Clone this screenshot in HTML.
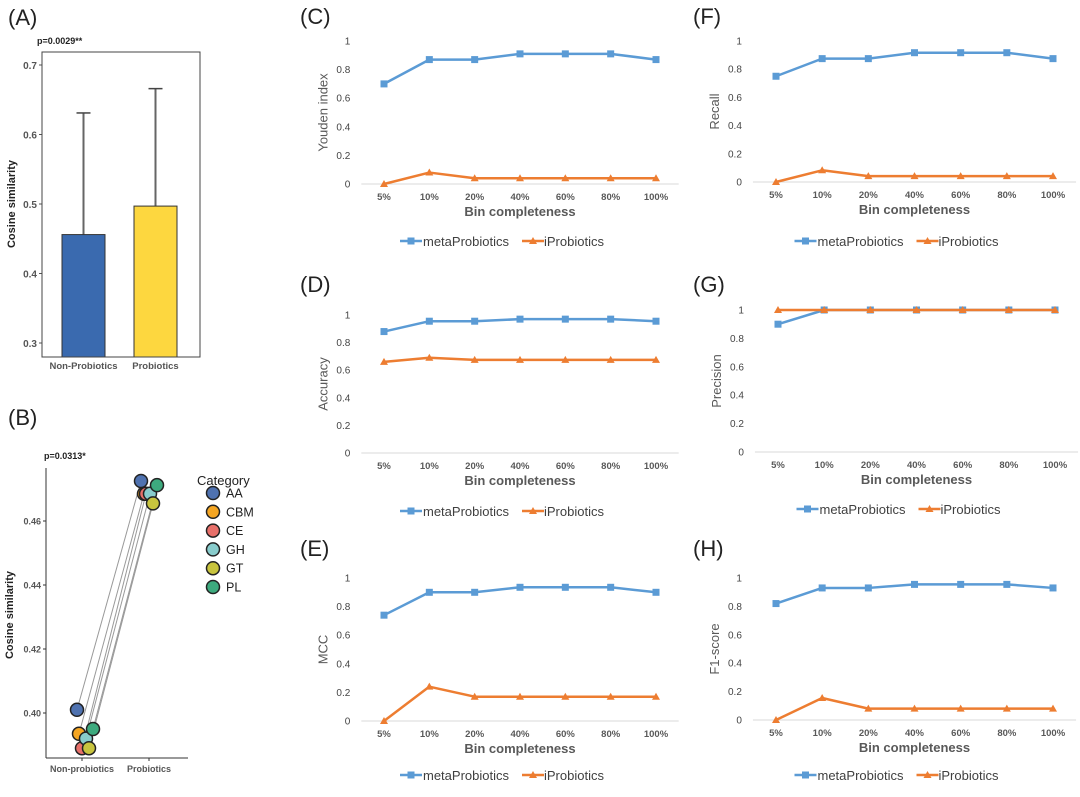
<!DOCTYPE html>
<html><head><meta charset="utf-8"><style>
body{margin:0;background:#fff;}
svg{display:block;font-family:"Liberation Sans",Arial,sans-serif;}
</style></head><body>
<svg id="fig" width="1080" height="797" viewBox="0 0 1080 797">
<g id="pA"></g>
<g id="pB"></g>
<g id="lines"></g>
</svg>
<script>
const NS="http://www.w3.org/2000/svg";
function el(p,t,a,txt){const e=document.createElementNS(NS,t);for(const k in a)e.setAttribute(k,a[k]);if(txt!==undefined)e.textContent=txt;p.appendChild(e);return e;}

// Panel A data
const aCats=["Non-Probiotics","Probiotics"];
const aMeans=[0.456,0.497];
const aErrTop=[0.631,0.666];
const aColors=["#3a6aaf","#fdd73f"];
const aTicks=[0.3,0.4,0.5,0.6,0.7];

// Panel B data
const bCats=["AA","CBM","CE","GH","GT","PL"];
const bNon=[0.401,0.3935,0.389,0.392,0.389,0.395];
const bPro=[0.4725,0.4685,0.4685,0.4685,0.4655,0.4712];
const bColors=["#4f72b0","#f5a623","#e8706a","#88cccc","#c8c43e","#3daa7e"];
const bTicks=[0.40,0.42,0.44,0.46];

// Line panels data
const binCats=["5%","10%","20%","40%","60%","80%","100%"];
const lineTicks=[0,0.2,0.4,0.6,0.8,1];
const youdenMeta=[0.70,0.87,0.87,0.91,0.91,0.91,0.87];
const youdenI=[0,0.08,0.04,0.04,0.04,0.04,0.04];
const recallMeta=[0.75,0.875,0.875,0.917,0.917,0.917,0.875];
const recallI=[0,0.083,0.042,0.042,0.042,0.042,0.042];
const accMeta=[0.88,0.955,0.955,0.97,0.97,0.97,0.955];
const accI=[0.66,0.69,0.675,0.675,0.675,0.675,0.675];
const precMeta=[0.9,1,1,1,1,1,1];
const precI=[1,1,1,1,1,1,1];
const mccMeta=[0.74,0.90,0.90,0.935,0.935,0.935,0.90];
const mccI=[0,0.24,0.17,0.17,0.17,0.17,0.17];
const f1Meta=[0.82,0.93,0.93,0.955,0.955,0.955,0.93];
const f1I=[0,0.155,0.08,0.08,0.08,0.08,0.08];

// ---- Panel A
(function(){
const g=document.getElementById('pA');
el(g,'text',{x:8,y:25,'font-size':22,fill:'#222',},'(A)');
el(g,'text',{x:37,y:44,'font-size':9,'font-weight':'bold',fill:'#222',},'p=0.0029**');
const y=v=>343-(v-0.3)*695;
const bx=[83.5,155.5];
aTicks.forEach(t=>{
 el(g,'line',{x1:39,x2:42,y1:y(t),y2:y(t),stroke:'#555'});
 el(g,'text',{x:37,y:y(t)+4,'font-size':10,'font-weight':'bold',fill:'#555','text-anchor':'end',},t.toFixed(1));
});
aMeans.forEach((m,i)=>{
 el(g,'line',{x1:bx[i],x2:bx[i],y1:y(aErrTop[i]),y2:y(m),stroke:'#666','stroke-width':2,});
 el(g,'line',{x1:bx[i]-7,x2:bx[i]+7,y1:y(aErrTop[i]),y2:y(aErrTop[i]),stroke:'#444','stroke-width':1.5});
 el(g,'rect',{x:bx[i]-21.5,y:y(m),width:43,height:357-y(m),fill:aColors[i],stroke:'#333','stroke-width':1,});
 el(g,'text',{x:bx[i],y:369,'font-size':9.5,'font-weight':'bold',fill:'#555','text-anchor':'middle',},aCats[i]);
});
el(g,'rect',{x:42,y:52,width:158,height:305,fill:'none',stroke:'#444','stroke-width':1,});
el(g,'text',{x:0,y:0,'font-size':11,'font-weight':'bold',fill:'#222','text-anchor':'middle',transform:'translate(15,204) rotate(-90)',},'Cosine similarity');
})();

// ---- Panel B
(function(){
const g=document.getElementById('pB');
el(g,'text',{x:8,y:425,'font-size':22,fill:'#222',},'(B)');
el(g,'text',{x:44,y:459,'font-size':9,'font-weight':'bold',fill:'#222',},'p=0.0313*');
const y=v=>713-(v-0.40)*3200;
const xn=[77,79,82,86,89,93], xp=[141,144,146,150,153,157];
el(g,'line',{x1:46,x2:46,y1:468,y2:758,stroke:'#333','stroke-width':1,});
el(g,'line',{x1:46,x2:188,y1:758,y2:758,stroke:'#333','stroke-width':1,});
bTicks.forEach(t=>{
 el(g,'line',{x1:43,x2:46,y1:y(t),y2:y(t),stroke:'#333'});
 el(g,'text',{x:41,y:y(t)+3.5,'font-size':9,'font-weight':'bold',fill:'#555','text-anchor':'end',},t.toFixed(2));
});
[[82,'Non-probiotics'],[149,'Probiotics']].forEach(([x,t])=>{
 el(g,'line',{x1:x,x2:x,y1:758,y2:761,stroke:'#333'});
 el(g,'text',{x:x,y:772,'font-size':9,'font-weight':'bold',fill:'#555','text-anchor':'middle',},t);
});
bCats.forEach((c,i)=>{
 const l=el(g,'line',{x1:xn[i],y1:y(bNon[i]),x2:xp[i],y2:y(bPro[i]),stroke:'#999','stroke-width':1});
 
 
});
bCats.forEach((c,i)=>{
 el(g,'circle',{cx:xn[i],cy:y(bNon[i]),r:6.5,fill:bColors[i],stroke:'#222','stroke-width':1.5,});
});
bCats.forEach((c,i)=>{
 el(g,'circle',{cx:xp[i],cy:y(bPro[i]),r:6.5,fill:bColors[i],stroke:'#222','stroke-width':1.5,});
});
el(g,'text',{x:197,y:485,'font-size':13,fill:'#222',},'Category');
bCats.forEach((c,i)=>{
 const yy=493+i*18.8;
 el(g,'circle',{cx:213,cy:yy,r:6.5,fill:bColors[i],stroke:'#222','stroke-width':1.5,});
 el(g,'text',{x:226,y:yy+4.5,'font-size':12.5,fill:'#222',},c);
});
el(g,'text',{x:0,y:0,'font-size':11,'font-weight':'bold',fill:'#222','text-anchor':'middle',transform:'translate(13,615) rotate(-90)',},'Cosine similarity');
})();

// ---- Line panels
const panels=[
 {L:'(C)',lx:300,ly:24,x0:384,x1:656,yt:41,yb:184,title:'Youden index',meta:youdenMeta,ip:youdenI,leg:241},
 {L:'(F)',lx:693,ly:24,x0:776,x1:1053,yt:41,yb:182,title:'Recall',meta:recallMeta,ip:recallI,leg:241},
 {L:'(D)',lx:300,ly:292,x0:384,x1:656,yt:315,yb:453,title:'Accuracy',meta:accMeta,ip:accI,leg:511},
 {L:'(G)',lx:693,ly:292,x0:778,x1:1055,yt:310,yb:452,title:'Precision',meta:precMeta,ip:precI,leg:509},
 {L:'(E)',lx:300,ly:556,x0:384,x1:656,yt:578,yb:721,title:'MCC',meta:mccMeta,ip:mccI,leg:775},
 {L:'(H)',lx:693,ly:556,x0:776,x1:1053,yt:578,yb:720,title:'F1-score',meta:f1Meta,ip:f1I,leg:775}
];
const root=document.getElementById('lines');
panels.forEach(p=>{
 const g=el(root,'g',{});
 el(g,'text',{x:p.lx,y:p.ly,'font-size':22,fill:'#222',},p.L);
 const n=binCats.length;
 const X=i=>p.x0+(p.x1-p.x0)*i/(n-1);
 const Y=v=>p.yb-(p.yb-p.yt)*v;
 const step=(p.x1-p.x0)/(n-1);
 el(g,'line',{x1:p.x0-step/2,x2:p.x1+step/2,y1:p.yb,y2:p.yb,stroke:'#d9d9d9','stroke-width':1,});
 lineTicks.forEach(t=>{
  el(g,'text',{x:p.x0-step/2-11,y:Y(t)+3.5,'font-size':10,fill:'#444','text-anchor':'end',},String(t));
 });
 binCats.forEach((c,i)=>{
  el(g,'text',{x:X(i),y:p.yb+16,'font-size':9.5,'font-weight':'bold',fill:'#595959','text-anchor':'middle',},c);
 });
 el(g,'text',{x:(p.x0+p.x1)/2,y:p.yb+32,'font-size':13,'font-weight':'bold',fill:'#595959','text-anchor':'middle',},'Bin completeness');
 el(g,'text',{x:0,y:0,'font-size':13,fill:'#595959','text-anchor':'middle',transform:`translate(${p.x0-step/2-34},${(p.yt+p.yb)/2}) rotate(-90)`,},p.title);
 const series=[[p.meta,'#5b9bd5','sq','metaProbiotics'],[p.ip,'#ed7d31','tri','iProbiotics']];
 series.forEach(([vals,col,mk,nm])=>{
  el(g,'polyline',{points:vals.map((v,i)=>X(i)+','+Y(v)).join(' '),fill:'none',stroke:col,'stroke-width':2.5,'stroke-linejoin':'round',});
  vals.forEach((v,i)=>{
   if(mk==='sq') el(g,'rect',{x:X(i)-3.5,y:Y(v)-3.5,width:7,height:7,fill:col,});
   else el(g,'polygon',{points:`${X(i)},${Y(v)-4} ${X(i)-4},${Y(v)+3} ${X(i)+4},${Y(v)+3}`,fill:col,});
  });
 });
 const cx=(p.x0+p.x1)/2-20;
 const lg=el(g,'g',{});
 el(lg,'line',{x1:cx-100,x2:cx-78,y1:p.leg,y2:p.leg,stroke:'#5b9bd5','stroke-width':2.5});
 el(lg,'rect',{x:cx-92.5,y:p.leg-3.5,width:7,height:7,fill:'#5b9bd5'});
 el(lg,'text',{x:cx-77,y:p.leg+5,'font-size':13,fill:'#404040',},'metaProbiotics');
 el(lg,'line',{x1:cx+22,x2:cx+44,y1:p.leg,y2:p.leg,stroke:'#ed7d31','stroke-width':2.5});
 el(lg,'polygon',{points:`${cx+33},${p.leg-4} ${cx+29},${p.leg+3} ${cx+37},${p.leg+3}`,fill:'#ed7d31'});
 el(lg,'text',{x:cx+44,y:p.leg+5,'font-size':13,fill:'#404040',},'iProbiotics');
});
</script>
</body></html>
